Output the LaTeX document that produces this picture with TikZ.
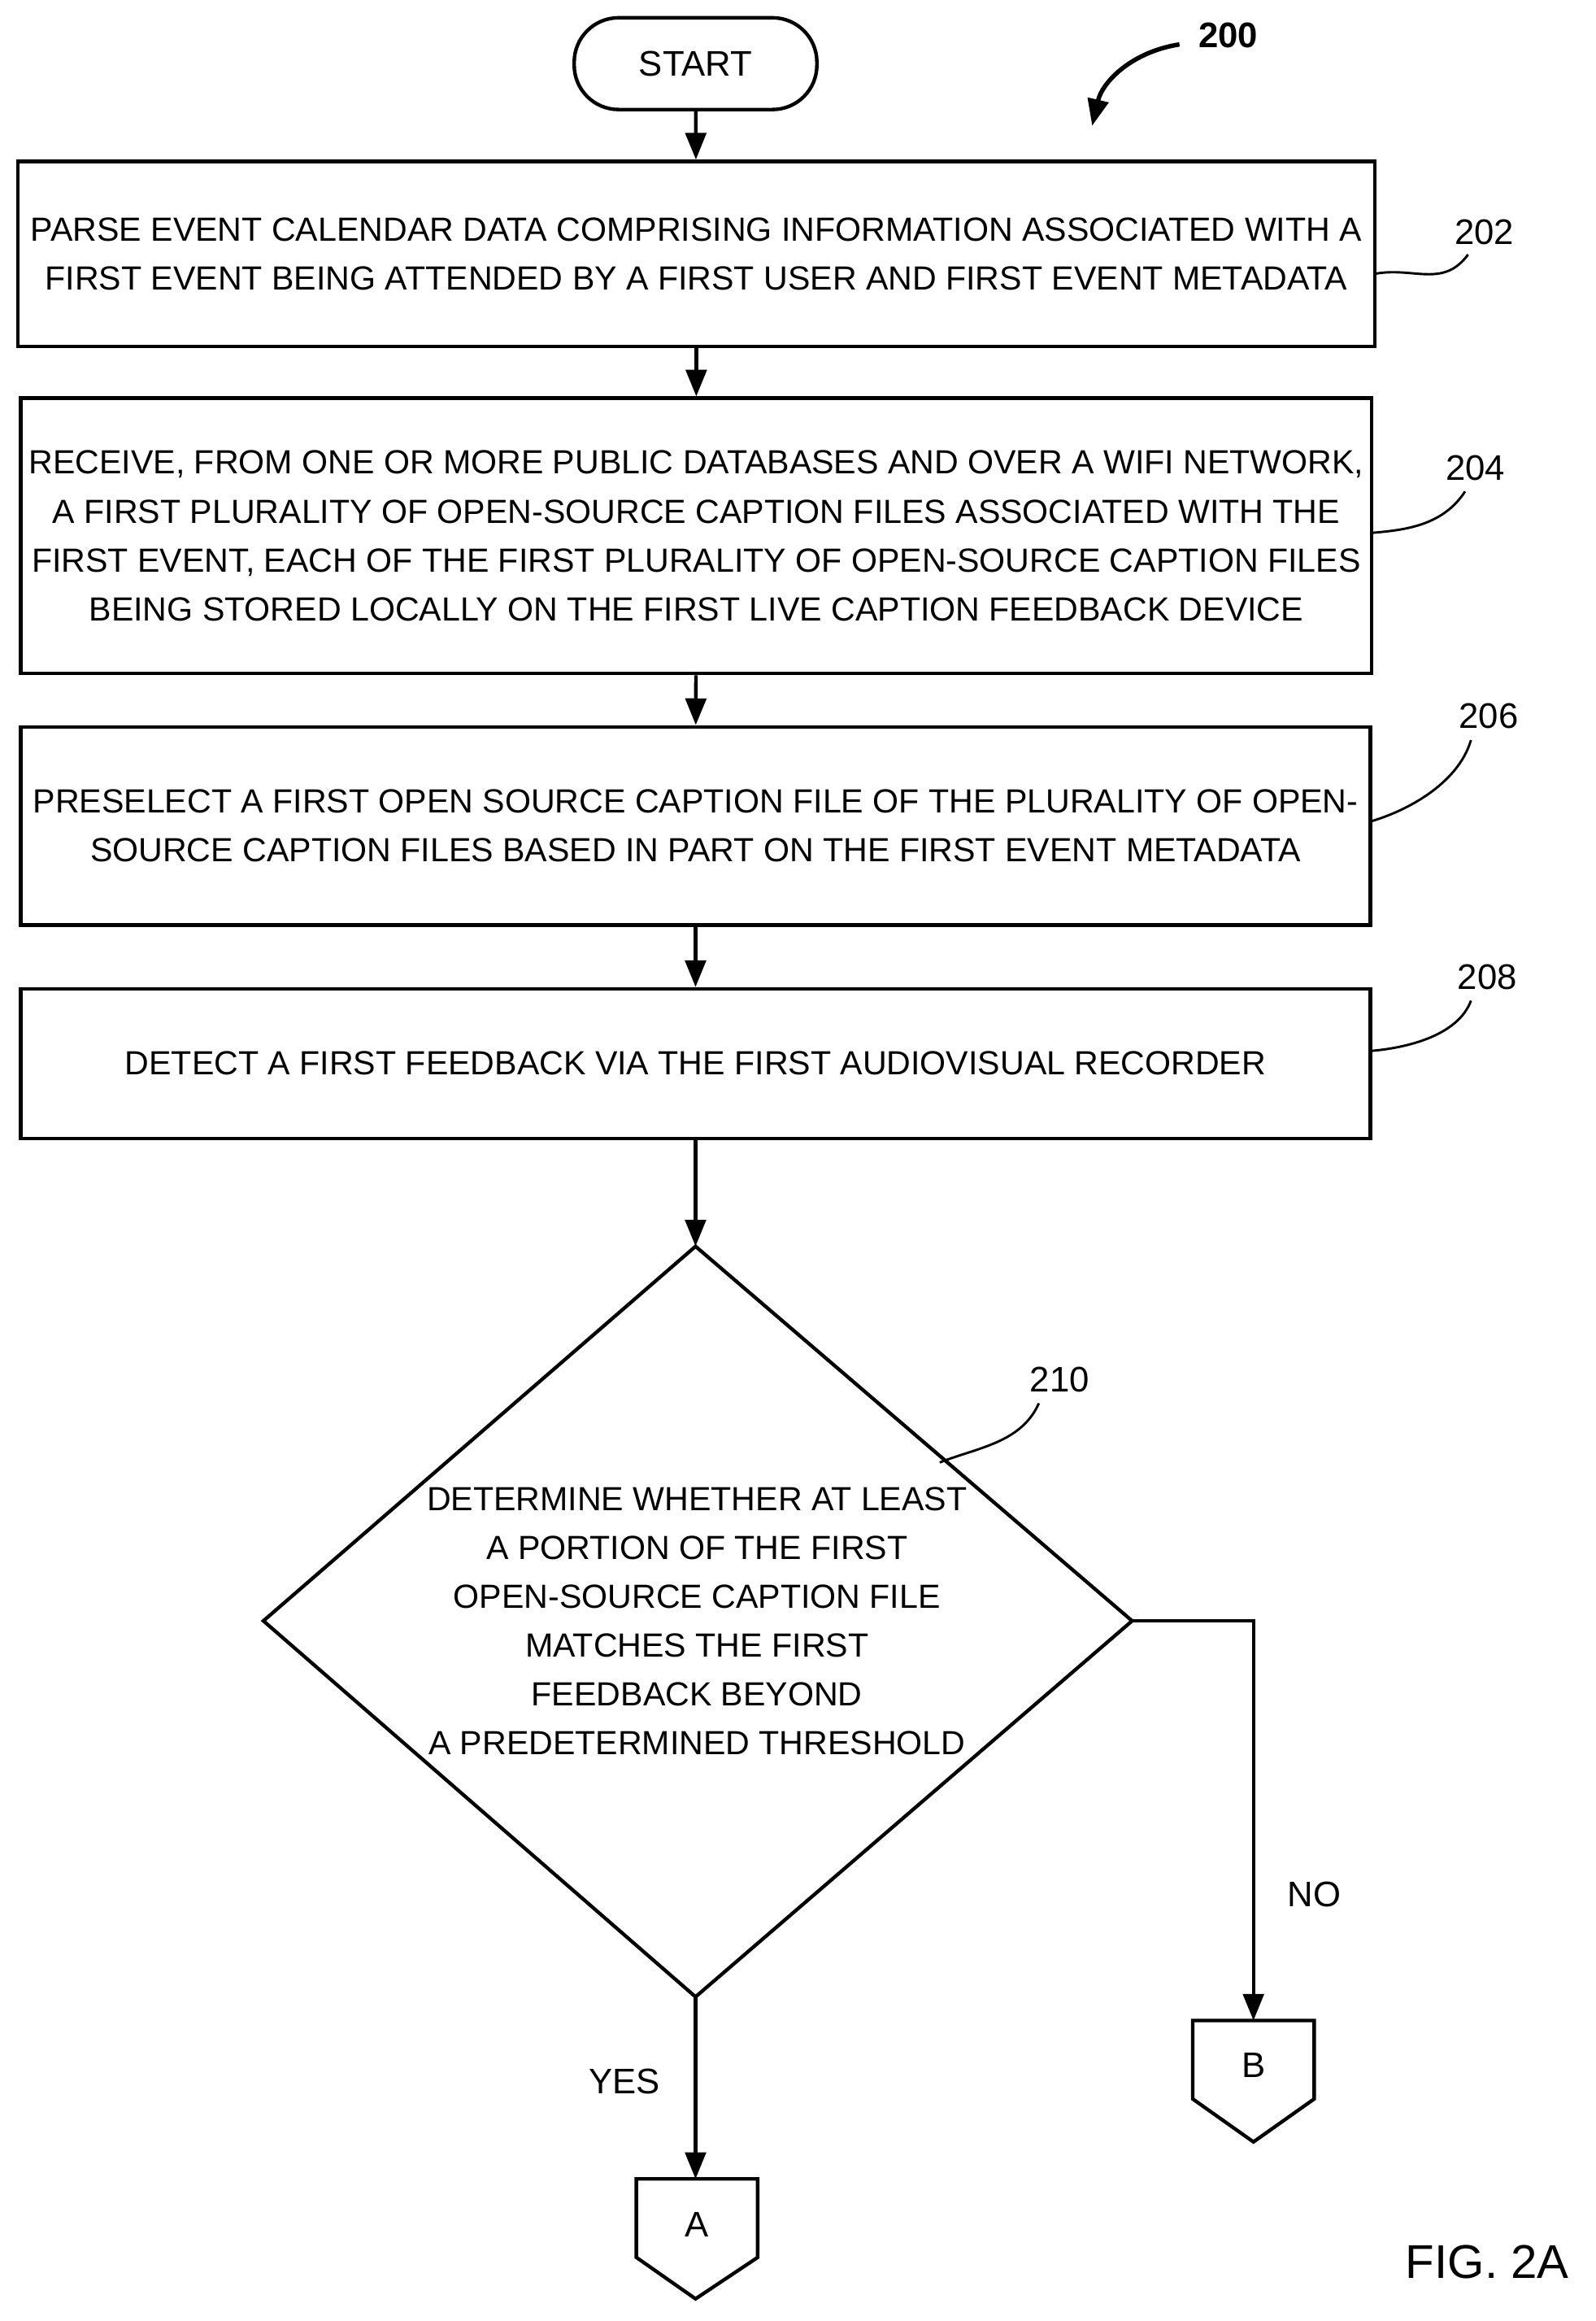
\documentclass[tikz,border=0pt]{standalone}
\usepackage{fontspec}
\setmainfont{Liberation Sans}
\usetikzlibrary{arrows.meta,shapes.geometric}
\begin{document}
\begin{tikzpicture}[x=0.5pt,y=-0.5pt,
  box/.style={draw,line width=1.2pt,minimum width=#1,align=center,font=\fontsize{11.3}{16.5}\selectfont,inner sep=0pt},
  lab/.style={font=\fontsize{12}{15}\selectfont},
  ar/.style={line width=1.2pt,-{Triangle[length=9pt,width=7pt]}},
  lead/.style={line width=0.8pt}]
\useasboundingbox (0,0) rectangle (1078,1568);
\node[draw,line width=1.2pt,rounded corners=15pt,minimum width=82pt,minimum height=31pt,font=\fontsize{12}{15}\selectfont] (start) at (470,43) {START};
\node[box=458.5pt,minimum height=62.5pt] (b202) at (470.5,171.5) {PARSE EVENT CALENDAR DATA COMPRISING INFORMATION ASSOCIATED WITH A\\FIRST EVENT BEING ATTENDED BY A FIRST USER AND FIRST EVENT METADATA};
\node[box=456.5pt,minimum height=93pt] (b204) at (470.5,362) {RECEIVE, FROM ONE OR MORE PUBLIC DATABASES AND OVER A WIFI NETWORK,\\A FIRST PLURALITY OF OPEN-SOURCE CAPTION FILES ASSOCIATED WITH THE\\FIRST EVENT, EACH OF THE FIRST PLURALITY OF OPEN-SOURCE CAPTION FILES\\BEING STORED LOCALLY ON THE FIRST LIVE CAPTION FEEDBACK DEVICE};
\node[box=456pt,minimum height=67pt] (b206) at (470,558) {PRESELECT A FIRST OPEN SOURCE CAPTION FILE OF THE PLURALITY OF OPEN-\\SOURCE CAPTION FILES BASED IN PART ON THE FIRST EVENT METADATA};
\node[box=456pt,minimum height=50.5pt] (b208) at (470,718.5) {DETECT A FIRST FEEDBACK VIA THE FIRST AUDIOVISUAL RECORDER};
\coordinate (dt) at (470,842); \coordinate (db) at (470,1349);
\coordinate (dl) at (178,1095); \coordinate (dr) at (765,1095);
\draw[line width=1.2pt] (dt)--(dr)--(db)--(dl)--cycle;
\node[align=center,font=\fontsize{11.3}{16.5}\selectfont] (d210) at (471,1095) {DETERMINE WHETHER AT LEAST\\A PORTION OF THE FIRST\\OPEN-SOURCE CAPTION FILE\\MATCHES THE FIRST\\FEEDBACK BEYOND\\A PREDETERMINED THRESHOLD};
\draw[line width=1.2pt] (806,1365)--(888,1365)--(888,1418)--(847,1447)--(806,1418)--cycle;
\node[lab] (B) at (847,1395) {B};
\draw[line width=1.2pt] (430,1472)--(512,1472)--(512,1525)--(470,1553)--(430,1525)--cycle;
\node[lab] (A) at (471,1503) {A};
\coordinate (Btop) at (847,1365); \coordinate (Atop) at (470,1472);
\draw[ar] (start)--(b202);
\draw[ar] (b202)--(b204);
\draw[ar] (b204)--(b206);
\draw[ar] (b206)--(b208);
\draw[ar] (b208)--(dt);
\draw[ar] (dr)-|(Btop);
\draw[ar] (db)--(Atop);
\node[lab] (no) at (888,1280) {NO};
\node[lab] (yes) at (422,1406) {YES};
\node[lab] (l202) at (1003,157) {202};
\node[lab] (l204) at (997,316) {204};
\node[lab] (l206) at (1006,484) {206};
\node[lab] (l208) at (1005,660) {208};
\node[lab] (l210) at (716,932) {210};
\draw[lead] (992,172) .. controls (975,195) and (955,180) .. (929,185);
\draw[lead] (990,332) .. controls (975,355) and (950,358) .. (927,360);
\draw[lead] (994,500) .. controls (985,530) and (950,548) .. (926,555);
\draw[lead] (994,676) .. controls (985,700) and (950,708) .. (926,710);
\draw[lead] (702,948) .. controls (690,975) and (660,978) .. (635,988);
\node[font=\bfseries\fontsize{12}{15}\selectfont] (l200) at (830,24) {200};
\coordinate (c200) at (738,85);
\draw[line width=1.5pt,-{Triangle[length=9pt,width=7pt]}] (797,30) .. controls (765,35) and (745,55) .. (c200);
\node[font=\fontsize{16}{20}\selectfont] (fig) at (1005,1528) {FIG. 2A};
\end{tikzpicture}
\end{document}
